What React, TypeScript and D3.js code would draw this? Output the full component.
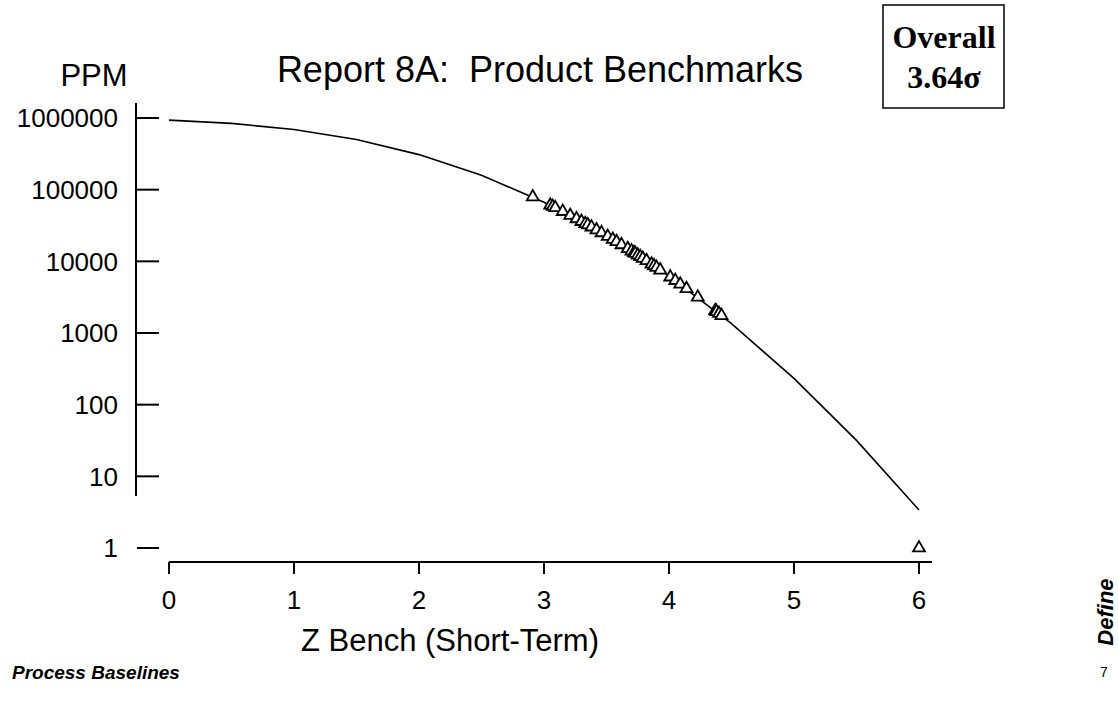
import React from "react";
import * as d3 from "d3";

// Reference curve: Z bench (short-term) vs PPM (0.5 steps)
const curveZ = [0, 0.5, 1, 1.5, 2, 2.5, 3, 3.5, 4, 4.5, 5, 5.5, 6];
const curvePPM = [933193, 841345, 691462, 500000, 308538, 158655, 66807, 22750, 6210, 1350, 233, 31.7, 3.4];

// Product benchmark points
const pointZ = [2.91, 3.05, 3.07, 3.09, 3.15, 3.21, 3.26, 3.3, 3.33, 3.35, 3.38, 3.42, 3.46, 3.51, 3.55, 3.58, 3.62, 3.67, 3.7, 3.72, 3.73, 3.75, 3.77, 3.79, 3.82, 3.86, 3.88, 3.9, 3.93, 4.01, 4.05, 4.09, 4.14, 4.23, 4.37, 4.38, 4.4, 4.42, 6.0];
const pointPPM = [79300, 60600, 58200, 55900, 49500, 43600, 39200, 35900, 33600, 32200, 30100, 27400, 25000, 22200, 20200, 18800, 17000, 15000, 13900, 13200, 12900, 12200, 11600, 11000, 10200, 9140, 8660, 8200, 7550, 6040, 5390, 4800, 4150, 3170, 2050, 1990, 1870, 1750, 1];

const xTicks = [0, 1, 2, 3, 4, 5, 6];
const yTicks = [1000000, 100000, 10000, 1000, 100, 10, 1];
const yTickLabels = ["1000000", "100000", "10000", "1000", "100", "10", "1"];

const title = "Report 8A:  Product Benchmarks";
const xTitle = "Z Bench (Short-Term)";
const yTitle = "PPM";
const boxLine1 = "Overall";
const boxLine2 = "3.64σ";

export default function App() {
  const W = 1118, H = 701;
  const x = d3.scaleLinear().domain([0, 6]).range([169, 919]);
  const y = d3.scaleLog().domain([1, 1000000]).range([548, 118]);
  const line = d3.line<number>().x((d, i) => x(curveZ[i])).y((d) => y(d));
  const tri = d3.symbol().type(d3.symbolTriangle).size(62)();
  const sans = "'Liberation Sans', Arial, sans-serif";
  const serif = "'Liberation Serif', 'Times New Roman', serif";
  return (
    <svg width={W} height={H} style={{ position: "absolute", left: 0, top: 0, background: "#fff" }}>
      <rect x={0} y={0} width={W} height={H} fill="#fff" />
      <text x={540} y={82} textAnchor="middle" fontFamily={sans} fontSize={36} style={{ whiteSpace: "pre" }}>{title}</text>
      <rect x={883} y={5} width={121} height={103} fill="none" stroke="#000" strokeWidth={1.5} />
      <text x={944} y={48} textAnchor="middle" fontFamily={serif} fontWeight="bold" fontSize={32}>{boxLine1}</text>
      <text x={944} y={88} textAnchor="middle" fontFamily={serif} fontWeight="bold" fontSize={32}>{boxLine2}</text>
      <text x={94} y={86} textAnchor="middle" fontFamily={sans} fontSize={31}>{yTitle}</text>

      {/* y axis */}
      <line x1={136} x2={136} y1={103} y2={496} stroke="#000" strokeWidth={2} />
      {yTicks.map((t, i) => (
        <g key={t}>
          <line x1={t === 1 ? 137 : 136} x2={159} y1={y(t)} y2={y(t)} stroke="#000" strokeWidth={2} />
          <text x={118} y={y(t)} dy="0.36em" textAnchor="end" fontFamily={sans} fontSize={26}>{yTickLabels[i]}</text>
        </g>
      ))}

      {/* x axis */}
      <line x1={169} x2={932} y1={562} y2={562} stroke="#000" strokeWidth={2} />
      {xTicks.map((t) => (
        <g key={t}>
          <line x1={x(t)} x2={x(t)} y1={562} y2={574} stroke="#000" strokeWidth={2} />
          <text x={x(t)} y={609} textAnchor="middle" fontFamily={sans} fontSize={26}>{t}</text>
        </g>
      ))}
      <text x={450} y={651} textAnchor="middle" fontFamily={sans} fontSize={31}>{xTitle}</text>

      <path d={line(curvePPM) || ""} fill="none" stroke="#000" strokeWidth={1.6} />
      {pointZ.map((z, i) => (
        <path key={i} d={tri || ""} transform={`translate(${x(z)},${y(pointPPM[i])})`} fill="#fff" stroke="#000" strokeWidth={1.8} />
      ))}

      <text x={12} y={679} fontFamily={sans} fontWeight="bold" fontStyle="italic" fontSize={19}>Process Baselines</text>
      <text transform="translate(1113,612) rotate(-90)" textAnchor="middle" fontFamily={sans} fontWeight="bold" fontStyle="italic" fontSize={22}>Define</text>
      <text x={1104} y={677} textAnchor="middle" fontFamily={sans} fontSize={14}>7</text>
    </svg>
  );
}
